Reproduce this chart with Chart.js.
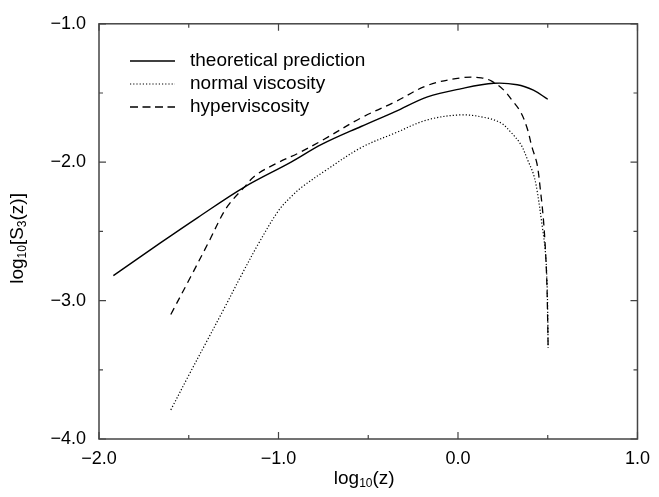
<!DOCTYPE html>
<html>
<head>
<meta charset="utf-8">
<script src="https://cdn.jsdelivr.net/npm/chart.js@4/dist/chart.umd.min.js"></script>
<style>
    html, body { margin: 0; padding: 0; background: #fff; }
    canvas { display: block; }
</style>
</head>
<body>
<canvas id="s3Chart" width="659" height="497"></canvas>
<script>
// values (log10 z vs log10 S3)
const theoryX = [-1.92, -1.66, -1.45, -1.19, -0.93, -0.76, -0.54, -0.35, -0.17, 0.02, 0.2, 0.33, 0.42, 0.5];
const theoryY = [-2.82, -2.585, -2.40, -2.18, -2.00, -1.872, -1.742, -1.635, -1.528, -1.468, -1.43, -1.44, -1.48, -1.545];

const normalX = [-1.6, -1.5, -1.4, -1.3, -1.2, -1.11, -1.0, -0.93, -0.87, -0.74, -0.54, -0.35, -0.17, 0.02, 0.16, 0.24, 0.29, 0.35, 0.39, 0.42, 0.44, 0.468, 0.487, 0.496, 0.5, 0.502];
const normalY = [-3.79, -3.54, -3.295, -3.05, -2.80, -2.585, -2.35, -2.25, -2.18, -2.062, -1.895, -1.789, -1.694, -1.658, -1.68, -1.717, -1.777, -1.872, -1.99, -2.085, -2.2, -2.45, -2.65, -2.87, -3.1, -3.34];

const hyperX = [-1.6, -1.49, -1.39, -1.29, -1.19, -1.13, -1.02, -0.89, -0.76, -0.54, -0.35, -0.17, 0.02, 0.13, 0.19, 0.256, 0.30, 0.348, 0.385, 0.413, 0.44, 0.459, 0.475, 0.487, 0.495, 0.499, 0.502];
const hyperY = [-3.10, -2.83, -2.58, -2.33, -2.18, -2.097, -2.014, -1.935, -1.845, -1.68, -1.564, -1.445, -1.39, -1.39, -1.416, -1.48, -1.55, -1.635, -1.753, -1.895, -2.01, -2.2, -2.4, -2.63, -2.87, -3.1, -3.33];

const seriesLabels = ['theoretical prediction', 'normal viscosity', 'hyperviscosity'];
const xRange = [-2.0, 1.0];
const yRange = [-4.0, -1.0];

const FONT = '"Liberation Sans", Arial, Helvetica, sans-serif';
const FRAME = '#444';

function toPoints(xs, ys) {
    return xs.map((x, i) => ({ x: x, y: ys[i] }));
}

function fmtTick(v) {
    if (Math.abs(v - Math.round(v)) > 1e-9) return '';
    const s = Math.abs(v).toFixed(1);
    return v < 0 ? '\u2212' + s : s;
}

// frame with inward ticks on all four sides
const framePlugin = {
    id: 'frame',
    afterDraw(chart) {
        const ctx = chart.ctx;
        const a = chart.chartArea;
        const xs = chart.scales.x;
        const ys = chart.scales.y;
        ctx.save();
        ctx.strokeStyle = FRAME;
        ctx.lineWidth = 1.5;
        ctx.strokeRect(a.left, a.top, a.right - a.left, a.bottom - a.top);
        ctx.lineWidth = 1.2;
        ctx.beginPath();
        xs.ticks.forEach(t => {
            const p = xs.getPixelForValue(t.value);
            const len = Number.isInteger(Math.round(t.value * 1e6) / 1e6) ? 7 : 4;
            ctx.moveTo(p, a.bottom); ctx.lineTo(p, a.bottom - len);
            ctx.moveTo(p, a.top); ctx.lineTo(p, a.top + len);
        });
        ys.ticks.forEach(t => {
            const p = ys.getPixelForValue(t.value);
            const len = Number.isInteger(Math.round(t.value * 1e6) / 1e6) ? 7 : 4;
            ctx.moveTo(a.left, p); ctx.lineTo(a.left + len, p);
            ctx.moveTo(a.right, p); ctx.lineTo(a.right - len, p);
        });
        ctx.stroke();
        ctx.restore();
    }
};

// axis titles with subscripts
function drawSubText(ctx, parts, x, y) {
    // parts: [text, isSub]
    let w = 0;
    parts.forEach(p => {
        ctx.font = (p[1] ? '12px ' : '19px ') + FONT;
        w += ctx.measureText(p[0]).width;
    });
    let cx = x - w / 2;
    parts.forEach(p => {
        ctx.font = (p[1] ? '12px ' : '19px ') + FONT;
        ctx.fillText(p[0], cx, p[1] ? y + 5 : y);
        cx += ctx.measureText(p[0]).width;
    });
}

const titlePlugin = {
    id: 'axisTitles',
    afterDraw(chart) {
        const ctx = chart.ctx;
        const a = chart.chartArea;
        ctx.save();
        ctx.fillStyle = '#000';
        ctx.textBaseline = 'middle';
        ctx.textAlign = 'left';
        drawSubText(ctx, [['log', false], ['10', true], ['(z)', false]], (a.left + a.right) / 2 - 4, 479);
        ctx.translate(18, (a.top + a.bottom) / 2 + 7);
        ctx.rotate(-Math.PI / 2);
        drawSubText(ctx, [['log', false], ['10', true], ['[S', false], ['3', true], ['(z)]', false]], 0, 0);
        ctx.restore();
    }
};

// legend inside the plot, upper left
const legendPlugin = {
    id: 'innerLegend',
    afterDraw(chart) {
        const ctx = chart.ctx;
        const x0 = 130, x1 = 175, tx = 190, y0 = 61, dy = 23;
        ctx.save();
        chart.data.datasets.forEach((ds, i) => {
            const y = y0 + i * dy;
            ctx.strokeStyle = ds.borderColor;
            ctx.lineWidth = ds.borderWidth;
            ctx.setLineDash(i === 2 ? [8, 4.5] : (ds.borderDash || []));
            ctx.beginPath();
            ctx.moveTo(x0, y);
            ctx.lineTo(x1, y);
            ctx.stroke();
            ctx.setLineDash([]);
            ctx.fillStyle = '#000';
            ctx.font = '19px ' + FONT;
            ctx.textBaseline = 'middle';
            ctx.fillText(ds.label, tx, y);
        });
        ctx.restore();
    }
};

const lineBase = {
    borderColor: '#000',
    pointRadius: 0,
    fill: false,
    tension: 0.35
};

new Chart(document.getElementById('s3Chart'), {
    type: 'line',
    data: {
        datasets: [
            Object.assign({}, lineBase, { label: seriesLabels[0], data: toPoints(theoryX, theoryY), borderWidth: 1.4 }),
            Object.assign({}, lineBase, { label: seriesLabels[1], data: toPoints(normalX, normalY), borderWidth: 1.2, borderDash: [1.2, 2] }),
            Object.assign({}, lineBase, { label: seriesLabels[2], data: toPoints(hyperX, hyperY), borderWidth: 1.3, borderDash: [7, 5] })
        ]
    },
    options: {
        responsive: false,
        animation: false,
        layout: { padding: { top: 17, right: 18, left: 0, bottom: 0 } },
        plugins: { legend: { display: false }, tooltip: { enabled: false } },
        scales: {
            x: {
                type: 'linear',
                min: xRange[0],
                max: xRange[1],
                grid: { display: false, drawTicks: false },
                border: { display: false },
                ticks: {
                    stepSize: 0.5,
                    autoSkip: false,
                    maxRotation: 0,
                    padding: 9,
                    color: '#000',
                    font: { family: FONT, size: 18 },
                    callback: fmtTick
                },
                afterFit(scale) { scale.height = 58; }
            },
            y: {
                type: 'linear',
                min: yRange[0],
                max: yRange[1],
                grid: { display: false, drawTicks: false },
                border: { display: false },
                ticks: {
                    stepSize: 0.5,
                    autoSkip: false,
                    padding: 13,
                    color: '#000',
                    font: { family: FONT, size: 18 },
                    callback: fmtTick
                },
                afterFit(scale) { scale.width = 99; }
            }
        }
    },
    plugins: [framePlugin, titlePlugin, legendPlugin]
});
</script>
</body>
</html>
